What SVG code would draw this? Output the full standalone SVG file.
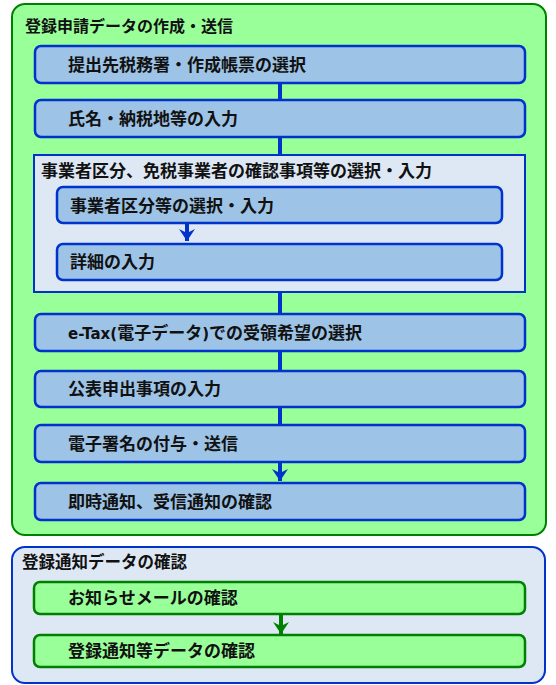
<svg xmlns="http://www.w3.org/2000/svg" width="556" height="685" viewBox="0 0 556 685">
<defs>
<style>
text{font-family:"Noto Sans CJK JP","Noto Sans",sans-serif;font-weight:bold;font-size:17px;fill:#111}
.t{font-size:16px}
.lat{font-family:"DejaVu Sans","Noto Sans CJK JP",sans-serif;font-size:15px}
.sec{fill:#99FF99;stroke:#008000;stroke-width:2}
.sec2{fill:#DEE8F5;stroke:#0033CC;stroke-width:2}
.box{fill:#9DC3E6;stroke:#0033CC;stroke-width:2.5}
.gbox{fill:#99FF99;stroke:#008000;stroke-width:2.5}
.bl{stroke:#0033CC;stroke-width:4;fill:none}
.gl{stroke:#008000;stroke-width:4;fill:none}
</style>
<marker id="ab" viewBox="0 0 12 16" refX="12" refY="8" markerWidth="12" markerHeight="16" markerUnits="userSpaceOnUse" orient="auto">
<path d="M0,0 L12,8 L0,16 L4,8 Z" fill="#0033CC"/>
</marker>
<marker id="ag" viewBox="0 0 12 16" refX="12" refY="8" markerWidth="12" markerHeight="16" markerUnits="userSpaceOnUse" orient="auto">
<path d="M0,0 L12,8 L0,16 L4,8 Z" fill="#008000"/>
</marker>
</defs>
<g id="section1">
<rect class="sec" x="12" y="4" width="534" height="531" rx="13"/>
<text class="t" x="25" y="32">登録申請データの作成・送信</text>
</g>
<g id="grp"><rect class="sec2" x="34" y="155" width="491" height="137"/><text x="41" y="177">事業者区分、免税事業者の確認事項等の選択・入力</text></g>
<g id="section2">
<rect class="sec2" x="12" y="547" width="533" height="136" rx="13"/>
<text x="22" y="568" style="font-size:16.5px">登録通知データの確認</text>
</g>
<g id="connectors">
<line class="bl" x1="280" y1="83" x2="280" y2="101"/>
<line class="bl" x1="280" y1="137" x2="280" y2="156"/>
<line class="bl" x1="280" y1="292" x2="280" y2="315"/>
<line class="bl" x1="280" y1="351" x2="280" y2="372"/>
<line class="bl" x1="280" y1="407" x2="280" y2="426"/>
<line class="bl" x1="280" y1="462" x2="280" y2="481" marker-end="url(#ab)"/>
<line class="bl" x1="187" y1="223" x2="187" y2="241" marker-end="url(#ab)"/>
<line class="gl" x1="281" y1="614" x2="281" y2="634" marker-end="url(#ag)"/>
</g>
<g id="n1"><rect class="box" x="35" y="46" width="490" height="37" rx="6"/><text x="68" y="71">提出先税務署・作成帳票の選択</text></g>
<g id="n2"><rect class="box" x="35" y="100" width="490" height="37" rx="6"/><text x="68" y="125">氏名・納税地等の入力</text></g>
<g id="nA"><rect class="box" x="57" y="187" width="445" height="36" rx="6"/><text x="70" y="212">事業者区分等の選択・入力</text></g>
<g id="nB"><rect class="box" x="57" y="244" width="445" height="36" rx="6"/><text x="70" y="268">詳細の入力</text></g>
<g id="n3"><rect class="box" x="35" y="314" width="490" height="37" rx="6"/><text x="68" y="339"><tspan class="lat">e-Tax(</tspan>電子データ<tspan class="lat">)</tspan>での受領希望の選択</text></g>
<g id="n4"><rect class="box" x="35" y="371" width="490" height="36" rx="6"/><text x="68" y="395">公表申出事項の入力</text></g>
<g id="n5"><rect class="box" x="35" y="425" width="490" height="37" rx="6"/><text x="68" y="450">電子署名の付与・送信</text></g>
<g id="n6"><rect class="box" x="35" y="483" width="490" height="37" rx="6"/><text x="68" y="508">即時通知、受信通知の確認</text></g>
<g id="g1"><rect class="gbox" x="34" y="582" width="491" height="32" rx="6"/><text x="68" y="604">お知らせメールの確認</text></g>
<g id="g2"><rect class="gbox" x="34" y="635" width="491" height="32" rx="6"/><text x="68" y="657">登録通知等データの確認</text></g>
</svg>
